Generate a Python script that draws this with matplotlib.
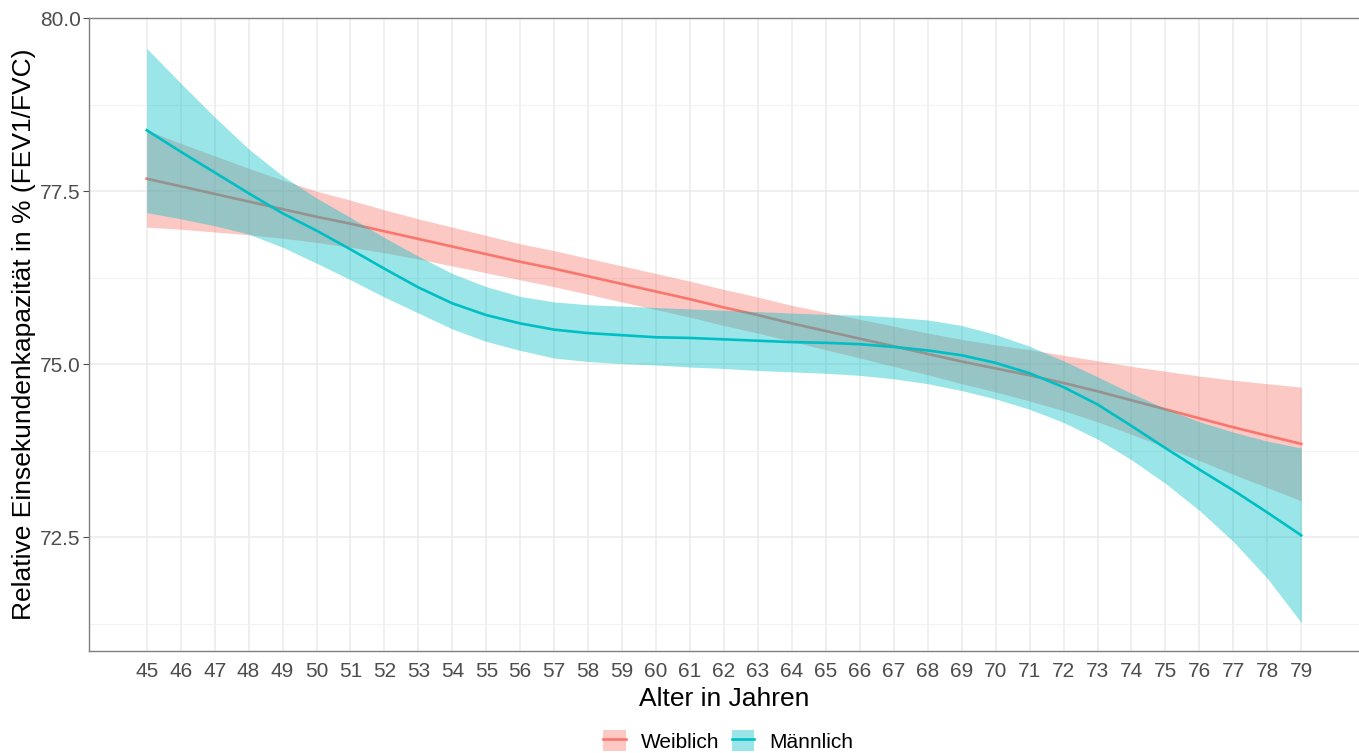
import matplotlib
matplotlib.use("Agg")
import matplotlib.pyplot as plt
from matplotlib.patches import Patch
from matplotlib.lines import Line2D

plt.rcParams['font.family'] = ['Liberation Sans', 'DejaVu Sans']

# Alter in Jahren
alter = list(range(45, 80))

# Weiblich: Schätzer und Konfidenzband
weiblich = [77.68, 77.57, 77.46, 77.35, 77.24, 77.13, 77.03, 76.92, 76.81, 76.70,
            76.59, 76.48, 76.38, 76.27, 76.16, 76.05, 75.94, 75.82, 75.71, 75.59,
            75.48, 75.37, 75.26, 75.15, 75.04, 74.94, 74.84, 74.73, 74.61, 74.48,
            74.35, 74.22, 74.09, 73.97, 73.85]
weiblich_hw = [0.70, 0.62, 0.55, 0.48, 0.42, 0.37, 0.34, 0.31, 0.29, 0.28,
               0.27, 0.26, 0.26, 0.26, 0.26, 0.26, 0.26, 0.26, 0.26, 0.26,
               0.27, 0.28, 0.29, 0.30, 0.32, 0.34, 0.37, 0.40, 0.44, 0.49,
               0.55, 0.61, 0.68, 0.75, 0.82]

# Männlich: Schätzer und Konfidenzband
maennlich = [78.38, 78.07, 77.77, 77.47, 77.18, 76.93, 76.66, 76.38, 76.11, 75.88,
             75.71, 75.59, 75.50, 75.45, 75.42, 75.39, 75.38, 75.36, 75.34, 75.32,
             75.31, 75.29, 75.25, 75.20, 75.13, 75.02, 74.87, 74.67, 74.42, 74.11,
             73.79, 73.48, 73.18, 72.86, 72.53]
maennlich_oben = [79.56, 79.06, 78.57, 78.11, 77.72, 77.40, 77.12, 76.83, 76.56, 76.31,
                  76.12, 75.98, 75.90, 75.86, 75.84, 75.82, 75.80, 75.78, 75.76, 75.74,
                  75.72, 75.71, 75.68, 75.64, 75.56, 75.43, 75.26, 75.05, 74.82, 74.58,
                  74.36, 74.17, 74.02, 73.89, 73.79]
maennlich_unten = [77.19, 77.10, 77.00, 76.88, 76.69, 76.46, 76.22, 75.97, 75.74, 75.51,
                   75.33, 75.20, 75.09, 75.04, 75.01, 74.99, 74.96, 74.94, 74.91, 74.89,
                   74.87, 74.84, 74.79, 74.72, 74.62, 74.50, 74.35, 74.16, 73.92, 73.62,
                   73.28, 72.89, 72.44, 71.91, 71.27]

rot = '#F8766D'
tuerkis = '#00BFC4'

fig = plt.figure(figsize=(13.59, 7.53), dpi=100)
ax = fig.add_axes([89/1359, 102/753, 1 - 89/1359, 633/753])

w_oben = [m + h for m, h in zip(weiblich, weiblich_hw)]
w_unten = [m - h for m, h in zip(weiblich, weiblich_hw)]

ax.fill_between(alter, w_unten, w_oben, color=rot, alpha=0.4, lw=0, zorder=2)
ax.plot(alter, weiblich, color=rot, lw=1.9, zorder=3)
ax.fill_between(alter, maennlich_unten, maennlich_oben, color=tuerkis, alpha=0.4, lw=0, zorder=4)
ax.plot(alter, maennlich, color=tuerkis, lw=1.9, zorder=5)

ax.set_xlim(43.3, 80.7)
ax.set_ylim(70.86, 79.99)
ax.set_xticks(alter)
ax.set_yticks([72.5, 75.0, 77.5, 80.0])
ax.set_yticklabels(['72.5', '75.0', '77.5', '80.0'])
ax.set_yticks([71.25, 73.75, 76.25, 78.75], minor=True)
ax.grid(True, which='major', color='#EBEBEB', lw=1.1, zorder=0)
ax.grid(True, which='minor', axis='y', color='#F2F2F2', lw=0.8, zorder=0)
ax.set_axisbelow(True)

ax.tick_params(axis='x', length=0, pad=8, labelsize=15, labelcolor='#4D4D4D')
ax.tick_params(axis='y', length=4, width=0.8, color='#4D4D4D', pad=2,
               labelsize=15, labelcolor='#4D4D4D')
ax.tick_params(axis='y', which='minor', length=0)

for s in ['left', 'bottom', 'top']:
    ax.spines[s].set_color('#7F7F7F')
    ax.spines[s].set_linewidth(1.0)
ax.spines['right'].set_visible(False)

ax.set_xlabel('Alter in Jahren', fontsize=19, labelpad=4)
ax.set_ylabel('Relative Einsekundenkapazität in % (FEV1/FVC)', fontsize=19, labelpad=2.5)

handles = [(Patch(facecolor=rot, alpha=0.4, lw=0), Line2D([], [], color=rot, lw=1.9)),
           (Patch(facecolor=tuerkis, alpha=0.4, lw=0), Line2D([], [], color=tuerkis, lw=1.9))]
fig.legend(handles, ['Weiblich', 'Männlich'], loc='center', ncol=2, frameon=False,
           bbox_to_anchor=(728/1359, 12/753), fontsize=15,
           handlelength=1.1, handleheight=1.15, handletextpad=0.7, columnspacing=0.6)

fig.savefig('out.png', dpi=100)
